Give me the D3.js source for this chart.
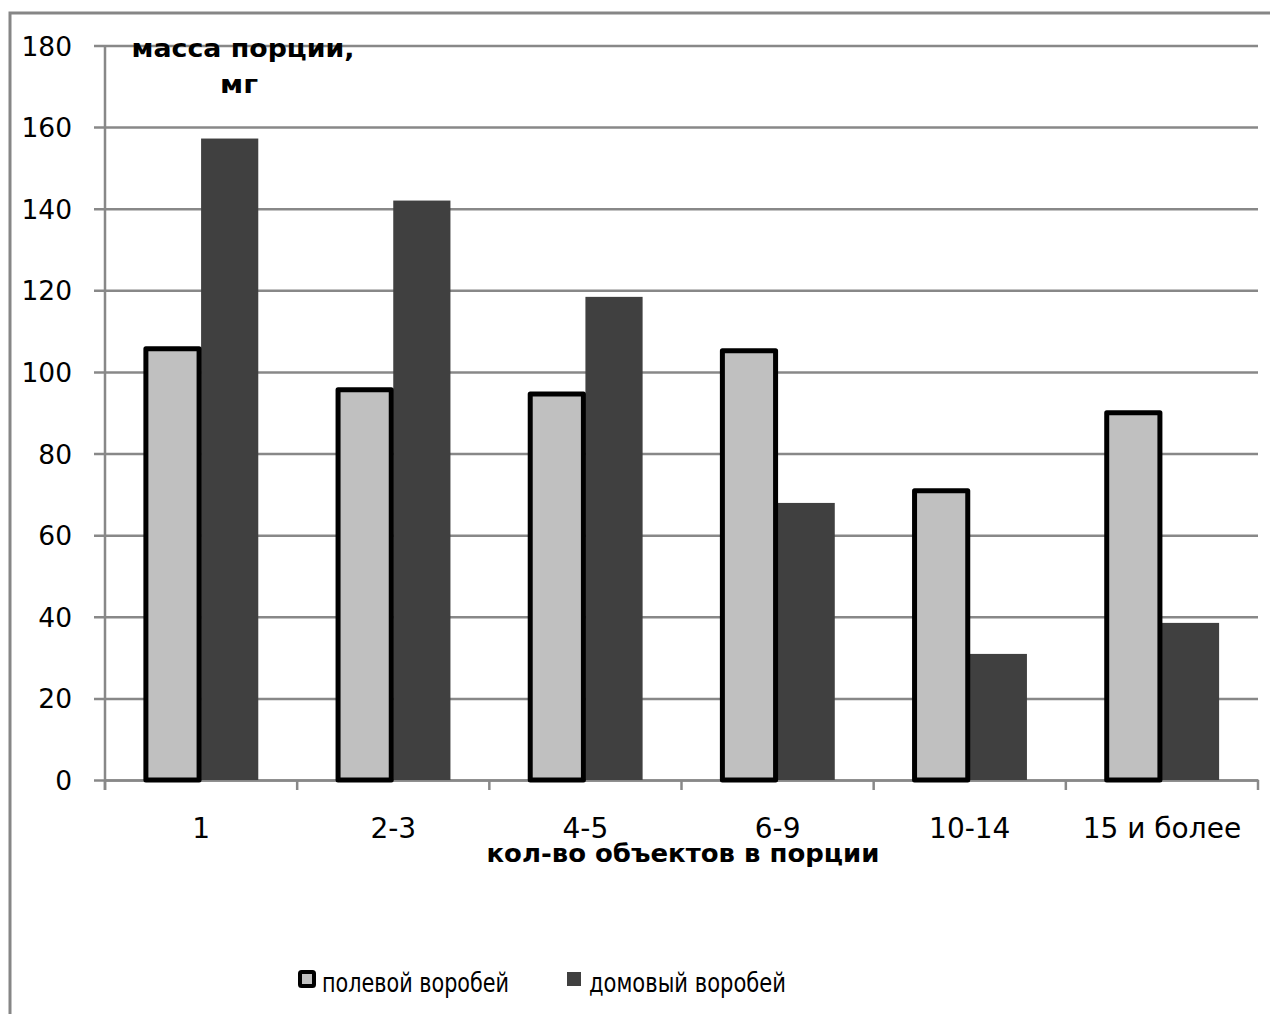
<!DOCTYPE html>
<html>
<head>
<meta charset="utf-8">
<script src="https://cdn.jsdelivr.net/npm/d3@7"></script>
<style>
  body { margin: 0; background: #fff; }
  svg text { font-family: "DejaVu Sans", Verdana, sans-serif; fill: #000; }
</style>
</head>
<body>
<div id="chart"></div>
<script>
const categories = ["1", "2-3", "4-5", "6-9", "10-14", "15 и более"];
const seriesNames = ["полевой воробей", "домовый воробей"];
const fieldSparrow = [106.2, 96.1, 95.1, 105.7, 71.4, 90.5];
const houseSparrow = [157.2, 142.0, 118.4, 67.9, 30.9, 38.5];
const yTicks = [0, 20, 40, 60, 80, 100, 120, 140, 160, 180];

const data = categories.map((c, i) => ({ cat: c, values: [fieldSparrow[i], houseSparrow[i]] }));

const width = 1270, height = 1014;
const margin = { top: 45.5, right: 12, bottom: 234, left: 105 };
const innerW = width - margin.left - margin.right;
const innerH = height - margin.top - margin.bottom;

const svg = d3.select("#chart").append("svg")
    .attr("width", width)
    .attr("height", height);

// outer chart frame (runs off the right and bottom edges)
svg.append("rect")
    .attr("x", 10).attr("y", 13)
    .attr("width", 1300).attr("height", 1100)
    .attr("fill", "none")
    .attr("stroke", "#868686")
    .attr("stroke-width", 3);

const g = svg.append("g")
    .attr("transform", `translate(${margin.left},${margin.top})`);

const x = d3.scaleBand()
    .domain(categories)
    .range([0, innerW])
    .paddingInner(0)
    .paddingOuter(0);

const x1 = d3.scaleBand()
    .domain([0, 1])
    .range([0, x.bandwidth()])
    .paddingOuter(0.68)
    .paddingInner(0);

const y = d3.scaleLinear()
    .domain([0, 180])
    .range([innerH, 0]);

// gridlines + y axis
const yAxis = g.append("g")
    .call(d3.axisLeft(y).tickValues(yTicks).tickSize(-innerW).tickSizeOuter(0));
yAxis.select(".domain").remove();
yAxis.selectAll(".tick line")
    .attr("x1", -11)
    .attr("stroke", "#888")
    .attr("stroke-width", 2.5);
yAxis.selectAll(".tick text")
    .style("font-size", "26.5px")
    .attr("x", -33)
    .attr("dy", "0.36em");

// y axis line
g.append("line")
    .attr("x1", 0).attr("x2", 0)
    .attr("y1", 0).attr("y2", innerH + 10)
    .attr("stroke", "#888").attr("stroke-width", 2.5);

// x axis
const xAxis = g.append("g")
    .attr("transform", `translate(0,${innerH})`)
    .call(d3.axisBottom(x).tickSize(0).tickPadding(38));
xAxis.select(".domain")
    .attr("stroke", "#888").attr("stroke-width", 2.5);
xAxis.selectAll(".tick text").style("font-size", "28px");

g.append("g")
    .selectAll("line")
    .data(d3.range(categories.length + 1))
    .enter().append("line")
    .attr("x1", i => i * x.step())
    .attr("x2", i => i * x.step())
    .attr("y1", innerH)
    .attr("y2", innerH + 10)
    .attr("stroke", "#888").attr("stroke-width", 2.5);

// bars
const groups = g.selectAll(".grp")
    .data(data)
    .enter().append("g")
    .attr("class", "grp")
    .attr("transform", d => `translate(${x(d.cat)},0)`);

groups.append("rect")
    .attr("x", x1(1))
    .attr("y", d => y(d.values[1]))
    .attr("width", x1.bandwidth())
    .attr("height", d => innerH - y(d.values[1]))
    .attr("fill", "#404040");

groups.append("rect")
    .attr("x", x1(0) + 2)
    .attr("y", d => y(d.values[0]) + 2)
    .attr("width", x1.bandwidth() - 4)
    .attr("height", d => innerH - y(d.values[0]) - 2)
    .attr("fill", "#c0c0c0")
    .attr("stroke", "#000")
    .attr("stroke-width", 5)
    .attr("stroke-linejoin", "round");

// axis titles
svg.append("text")
    .attr("x", 243).attr("y", 57)
    .attr("text-anchor", "middle")
    .style("font-size", "25px").style("font-weight", "bold")
    .attr("textLength", 223).attr("lengthAdjust", "spacingAndGlyphs")
    .text("масса порции,");
svg.append("text")
    .attr("x", 239).attr("y", 93)
    .attr("text-anchor", "middle")
    .style("font-size", "25px").style("font-weight", "bold")
    .attr("textLength", 38).attr("lengthAdjust", "spacingAndGlyphs")
    .text("мг");

svg.append("text")
    .attr("x", 683).attr("y", 862)
    .attr("text-anchor", "middle")
    .style("font-size", "25px").style("font-weight", "bold")
    .attr("textLength", 393).attr("lengthAdjust", "spacingAndGlyphs")
    .text("кол-во объектов в порции");

// legend
const legendX = [298, 567];
const legendW = [187, 197];
const legend = svg.selectAll(".leg")
    .data(seriesNames)
    .enter().append("g")
    .attr("class", "leg")
    .attr("transform", (d, i) => `translate(${legendX[i]},970)`);

legend.append("rect")
    .attr("x", (d, i) => i === 0 ? 2 : 0)
    .attr("y", (d, i) => i === 0 ? 2 : 2)
    .attr("width", 14)
    .attr("height", 14)
    .attr("fill", (d, i) => i === 0 ? "#c0c0c0" : "#404040")
    .attr("stroke", (d, i) => i === 0 ? "#000" : "none")
    .attr("stroke-width", 4)
    .attr("rx", (d, i) => i === 0 ? 1.5 : 0);

legend.append("text")
    .attr("x", (d, i) => i === 0 ? 24 : 22).attr("y", 22)
    .style("font-size", "26px")
    .attr("textLength", (d, i) => legendW[i]).attr("lengthAdjust", "spacingAndGlyphs")
    .text(d => d);
</script>
</body>
</html>
